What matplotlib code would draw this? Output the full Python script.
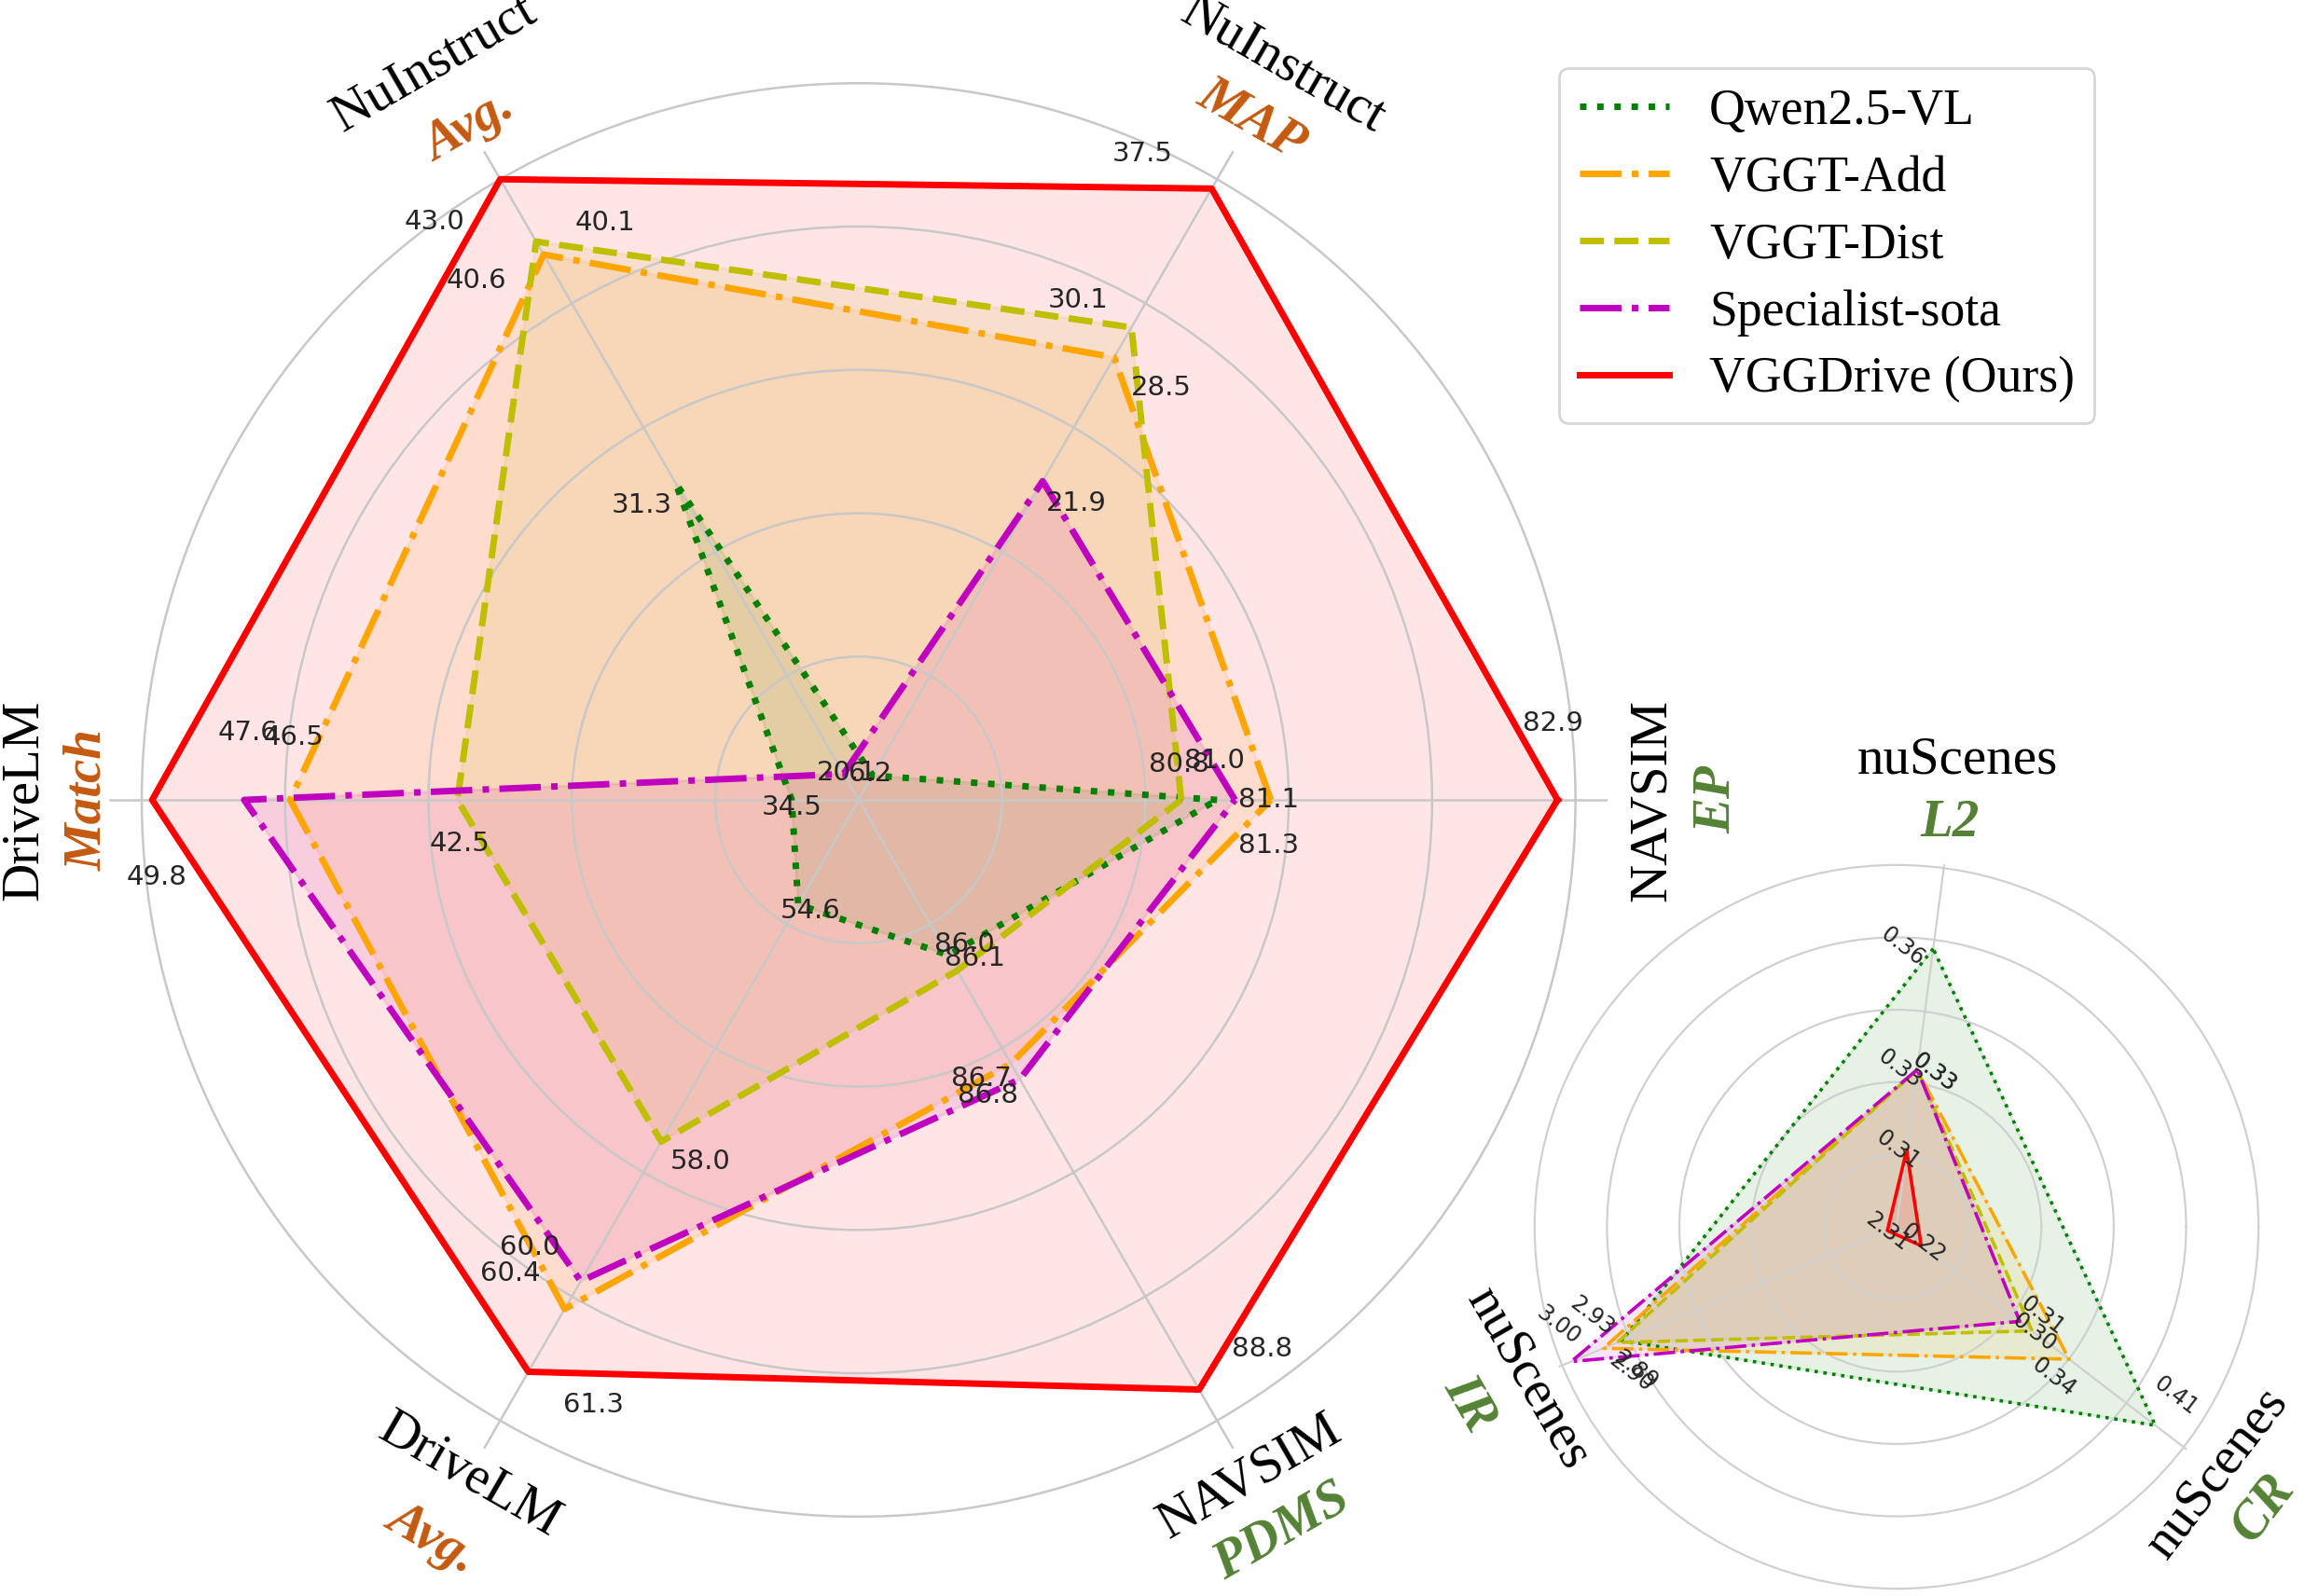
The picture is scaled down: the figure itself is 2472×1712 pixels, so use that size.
import numpy as np
import matplotlib.pyplot as plt
from matplotlib.lines import Line2D

# ---- data ----
models = ['Qwen2.5-VL', 'VGGT-Add', 'VGGT-Dist', 'Specialist-sota', 'VGGDrive (Ours)']

# big radar, axes counter-clockwise starting at the right
main_names = ['NAVSIM', 'NuInstruct', 'NuInstruct', 'DriveLM', 'DriveLM', 'NAVSIM']
main_metrics = ['EP', 'MAP', 'Avg.', 'Match', 'Avg.', 'PDMS']
main_lo = [79.0, 4.9, 19.1, 32.9, 53.1, 85.0]
main_hi = [83.0, 38.0, 43.0, 50.05, 62.0, 89.0]
qwen_main = [81.0, 6.2, 31.3, 34.5, 54.6, 86.0]
add_main = [81.3, 28.5, 40.1, 46.5, 60.4, 86.7]
dist_main = [80.8, 30.1, 40.6, 42.5, 58.0, 86.1]
sota_main = [81.1, 21.9, 20.1, 47.6, 60.0, 86.8]
ours_main = [82.9, 37.5, 43.0, 49.8, 61.3, 88.8]

# small radar (nuScenes)
small_names = ['nuScenes', 'nuScenes', 'nuScenes']
small_metrics = ['L2', 'IR', 'CR']
small_lo = [0.291, 2.29, 0.20]
small_hi = [0.38, 3.02, 0.433]
qwen_small = [0.36, 2.89, 0.41]
add_small = [0.33, 2.93, 0.34]
dist_small = [0.33, 2.90, 0.31]
sota_small = [0.33, 3.00, 0.30]
ours_small = [0.31, 2.31, 0.22]

# ---- style ----
colors = ['green', 'orange', 'y', 'm', 'red']
styles = [':', '-.', '--', '-.', '-']
side = [1, -1, 1, -1, 1]          # which side of the spoke the value label goes
brown = '#C55A11'
olive = '#548235'
metric_colors_main = [olive, brown, brown, brown, brown, olive]
serif = 'Liberation Serif'


def norm(vals, lo, hi):
    return [(v - a) / (b - a) for v, a, b in zip(vals, lo, hi)]


def radar(ax, theta, series, lo, hi, lw, fs, fmt, rot, nudge):
    for k, vals in enumerate(series):
        r = norm(vals, lo, hi)
        tt = np.append(theta, theta[0])
        rr = np.append(r, r[0])
        ax.fill(tt, rr, color=colors[k], alpha=0.1, zorder=1)
        ax.plot(tt, rr, color=colors[k], ls=styles[k], lw=lw, zorder=3)
        for i in range(len(theta)):
            dt, dr = side[k] * 0.11, 0
            if (k, i) in nudge:
                dt, dr = nudge[(k, i)]
            ax.text(theta[i] + dt, r[i] + dr, fmt % vals[i], ha='center', va='center',
                    fontsize=fs, color='#262626', rotation=rot, zorder=5)


fig = plt.figure(figsize=(12.36, 8.56), dpi=200)

# big radar
ax = fig.add_axes([0.0475, 0.0294, 0.650, 0.9388], polar=True)
ax.patch.set_alpha(0)
th = np.deg2rad([0, 60, 120, 180, 240, 300])
radar(ax, th, [qwen_main, add_main, dist_main, sota_main, ours_main],
      main_lo, main_hi, 2.5, 10.5, '%.1f', 0, {(3, 0): (0, 0.047)})
ax.set_ylim(0, 1.045)
ax.set_yticks([0.2, 0.4, 0.6, 0.8, 1.0])
ax.set_yticklabels([])
ax.set_xticks(th)
ax.set_xticklabels([])
ax.spines['polar'].set_visible(False)
ax.grid(color='#c8c8c8', lw=0.9)

name_r = [1.107, 1.184, 1.185, 1.164, 1.088, 1.090]
metric_r = [1.198, 1.095, 1.085, 1.075, 1.189, 1.179]
rots = [90, -30, 30, 90, -30, 30]
for i in range(6):
    ax.text(th[i], name_r[i], main_names[i], rotation=rots[i], ha='center', va='center',
            fontsize=20.5, family=serif, rotation_mode='anchor')
    ax.text(th[i], metric_r[i], main_metrics[i], rotation=rots[i], ha='center', va='center',
            fontsize=20.5, family=serif, weight='bold', style='italic',
            color=metric_colors_main[i], rotation_mode='anchor')

# small radar
ax2 = fig.add_axes([0.6642, 0.0023, 0.3172, 0.458], polar=True)
ax2.patch.set_alpha(0)
th2 = np.deg2rad([82.5, 202.5, 322.5])
radar(ax2, th2, [qwen_small, add_small, dist_small, sota_small, ours_small],
      small_lo, small_hi, 1.3, 8.5, '%.2f', -37.5, {(3, 2): (0, 0.05)})
ax2.set_ylim(0, 1.01)
ax2.set_yticks([0.2, 0.4, 0.6, 0.8, 1.0])
ax2.set_yticklabels([])
ax2.set_xticks(th2)
ax2.set_xticklabels([])
ax2.spines['polar'].set_visible(False)
ax2.grid(color='#d0d0d0', lw=0.8)

name_r2 = [1.30, 1.10, 1.118]
metric_r2 = [1.124, 1.277, 1.276]
rots2 = [0, -60, 52.5]
for i in range(3):
    ax2.text(th2[i], name_r2[i], small_names[i], rotation=rots2[i], ha='center', va='center',
             fontsize=20.5, family=serif, rotation_mode='anchor')
    ax2.text(th2[i], metric_r2[i], small_metrics[i], rotation=rots2[i], ha='center', va='center',
             fontsize=20.5, family=serif, weight='bold', style='italic', color=olive,
             rotation_mode='anchor')

handles = [Line2D([], [], color=colors[k], ls=styles[k], lw=2.5) for k in range(5)]
fig.legend(handles, models, loc='upper left', bbox_to_anchor=(0.6764, 0.9574),
           borderaxespad=0, prop={'family': serif, 'size': 19.3},
           handlelength=1.8, labelspacing=0.4)

fig.savefig('out.png', dpi=200)
